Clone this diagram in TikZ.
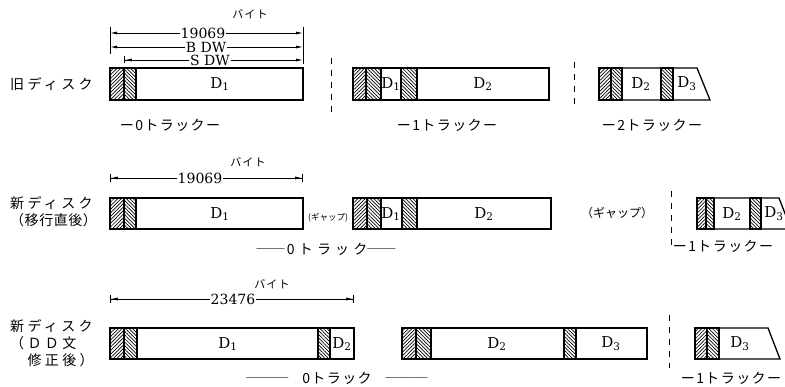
\documentclass[tikz,border=0pt]{standalone}
\usepackage{fontspec}
\setmainfont{DejaVu Serif}
\newfontfamily\jp{Noto Sans CJK JP}
\newfontfamily\jpwide[LetterSpace=24]{Noto Sans CJK JP}
\newfontfamily\jpmid[LetterSpace=4]{Noto Sans CJK JP}
\newfontfamily\jptrk[LetterSpace=10]{Noto Sans CJK JP}
\newfontfamily\jpspread[LetterSpace=30]{Noto Sans CJK JP}
\usetikzlibrary{arrows.meta,patterns.meta}

\begin{document}
\begin{tikzpicture}[x=1pt,y=-1pt,
  every node/.style={inner sep=0pt},
  segbox/.style={draw,line width=1.3pt},
  hatchR/.style={segbox,pattern={Lines[angle=45,distance=2.5pt,line width=0.7pt]}},
  hatchL/.style={segbox,pattern={Lines[angle=-45,distance=2.5pt,line width=0.7pt]}},
  dat/.style={font=\fontsize{15}{15}\selectfont},
  dimnum/.style={font=\fontsize{14}{14}\selectfont,fill=white,inner xsep=1pt},
  unitlab/.style={font=\jptrk\fontsize{11}{11}\selectfont},
  rowlab/.style={font=\jpwide\fontsize{14}{17}\selectfont,align=left,anchor=west},
  trk/.style={font=\jptrk\fontsize{14}{14}\selectfont},
  gaplab/.style={font=\jp\fontsize{12}{12}\selectfont},
  trackcut/.style={line width=0.9pt,dash pattern=on 6pt off 6pt},
  ext/.style={line width=0.8pt},
  dimline/.style={line width=0.8pt,
    {Latex[length=7pt,width=3pt]}-{Latex[length=7pt,width=3pt]}},
  dimbar/.style={line width=0.8pt,
    {Bar[width=8pt,sep=0pt]Latex[length=7pt,width=3pt]}-{Latex[length=7pt,width=3pt,sep=0pt]Bar[width=8pt]}},
  sdwline/.style={line width=0.8pt,
    {Bar[width=7pt,sep=0pt]Latex[length=7pt,width=3pt]}-{Latex[length=7pt,width=3pt]}}
]
\useasboundingbox (0,0) rectangle (785,387);

% ---------- old disk
\node[rowlab] (oldlab) at (10,84) {旧ディスク};
\node[unitlab] (obyte) at (250,14) {バイト};
\coordinate (oxLt) at (110,27); \coordinate (oxLb) at (110,54);
\coordinate (oxRt) at (303,27); \coordinate (oxRb) at (303,64);
\draw[ext] (oxLt) -- (oxLb);
\draw[ext] (oxRt) -- (oxRb);
\coordinate (o19L) at (110,33); \coordinate (o19R) at (303,33);
\draw[dimline] (o19L) -- (o19R);
\node[dimnum] (o19069) at (203,33) {19069};
\coordinate (obdwL) at (110,47); \coordinate (obdwR) at (303,47);
\draw[dimline] (obdwL) -- (obdwR);
\node[dimnum] (obdw) at (206,47) {B DW};
\coordinate (osdwL) at (124,60); \coordinate (osdwR) at (303,60);
\draw[sdwline] (osdwL) -- (osdwR);
\node[dimnum] (osdw) at (210,60) {S DW};

\draw[segbox] (110,68) rectangle (303,100);
\draw[hatchR] (110,68) rectangle (124,100);
\draw[hatchL] (124,68) rectangle (136,100);
\node[dat] (oa1) at (220,84) {D\textsubscript{1}};

\coordinate (ocut1t) at (331,58); \coordinate (ocut1b) at (331,112);
\draw[trackcut] (ocut1t) -- (ocut1b);

\draw[segbox] (353,68) rectangle (549,100);
\draw[hatchR] (353,68) rectangle (366,100);
\draw[hatchL] (366,68) rectangle (381,100);
\draw[hatchL] (401,68) rectangle (417,100);
\node[dat] (ob1) at (391,84) {D\textsubscript{1}};
\node[dat] (ob2) at (483,84) {D\textsubscript{2}};

\coordinate (ocut2t) at (574,62); \coordinate (ocut2b) at (574,104);
\draw[trackcut] (ocut2t) -- (ocut2b);

\draw[segbox] (599,68) -- (697,68) -- (710,100) -- (599,100) -- cycle;
\draw[hatchR] (599,68) rectangle (611,100);
\draw[hatchL] (611,68) rectangle (622,100);
\draw[hatchL] (661,68) rectangle (673,100);
\node[dat] (oc2) at (641,84) {D\textsubscript{2}};
\node[dat] (oc3) at (687,84) {D\textsubscript{3}};

\node[trk] (otrk0) at (170,125) {ー0トラックー};
\node[trk] (otrk1) at (447,125) {ー1トラックー};
\node[trk] (otrk2) at (652,125) {ー2トラックー};

% ---------- new disk, just after moving
\node[rowlab] (newlab1) at (10,212) {新ディスク\\{\jpmid （移行直後）}};
\node[unitlab] (nbyte1) at (248,162) {バイト};
\coordinate (n19L) at (110,178); \coordinate (n19R) at (303,178);
\draw[dimbar] (n19L) -- (n19R);
\node[dimnum] (n19069) at (200,178) {19069};

\draw[segbox] (110,198) rectangle (303,229);
\draw[hatchR] (110,198) rectangle (124,229);
\draw[hatchL] (124,198) rectangle (136,229);
\node[dat] (na1) at (220,214) {D\textsubscript{1}};
\node[font=\jp\fontsize{8.5}{8.5}\selectfont] (ngap1) at (328,218) {(ギャップ)};

\draw[segbox] (353,198) rectangle (551,229);
\draw[hatchR] (353,198) rectangle (367,229);
\draw[hatchL] (367,198) rectangle (381,229);
\draw[hatchL] (402,198) rectangle (417,229);
\node[dat] (nb1) at (391,214) {D\textsubscript{1}};
\node[dat] (nb2) at (484,214) {D\textsubscript{2}};
\node[gaplab] (ngap2) at (617,213) {（ギャップ）};

\coordinate (ncutt) at (671,191); \coordinate (ncutb) at (671,245);
\draw[trackcut] (ncutt) -- (ncutb);

\draw[segbox] (697,198) -- (779,198) -- (791,229) -- (697,229) -- cycle;
\draw[hatchR] (697,198) rectangle (706,229);
\draw[hatchL] (706,198) rectangle (714,229);
\draw[hatchL] (750,198) rectangle (761,229);
\node[dat] (nc2) at (732,214) {D\textsubscript{2}};
\node[dat] (nc3) at (774,214) {D\textsubscript{3}};

\node[trk] (ntrk0) at (326,249) {{\jp ──}\,{\jpspread 0トラック}{\jp ──}};
\node[trk] (ntrk1) at (723,246) {ー1トラックー};

% ---------- new disk, after DD statement fix
\node[rowlab] (newlab2) at (10,343) {新ディスク\\（ＤＤ文\\　修正後）};
\node[unitlab] (mbyte) at (272,284) {バイト};
\coordinate (m23L) at (110,299); \coordinate (m23R) at (354,299);
\draw[dimbar] (m23L) -- (m23R);
\node[dimnum] (m23476) at (233,299) {23476};

\draw[segbox] (110,328) rectangle (354,359);
\draw[hatchR] (110,328) rectangle (124,359);
\draw[hatchL] (124,328) rectangle (137,359);
\draw[hatchL] (318,328) rectangle (330,359);
\node[dat] (ma1) at (228,344) {D\textsubscript{1}};
\node[dat] (ma2) at (342,344) {D\textsubscript{2}};

\draw[segbox] (402,328) rectangle (647,359);
\draw[hatchR] (402,328) rectangle (416,359);
\draw[hatchL] (416,328) rectangle (431,359);
\draw[hatchL] (564,328) rectangle (576,359);
\node[dat] (mb2) at (497,344) {D\textsubscript{2}};
\node[dat] (mb3) at (611,344) {D\textsubscript{3}};

\coordinate (mcutt) at (669,315); \coordinate (mcutb) at (669,368);
\draw[trackcut] (mcutt) -- (mcutb);

\draw[segbox] (695,328) -- (768,328) -- (780,359) -- (695,359) -- cycle;
\draw[hatchR] (695,328) rectangle (707,359);
\draw[hatchL] (707,328) rectangle (719,359);
\node[dat] (mc3) at (740,344) {D\textsubscript{3}};

\node[trk] (mtrk0) at (337,378) {{\jp ───}\quad 0トラック\quad{\jp ───}};
\node[trk] (mtrk1) at (731,378) {ー1トラックー};
\end{tikzpicture}
\end{document}
